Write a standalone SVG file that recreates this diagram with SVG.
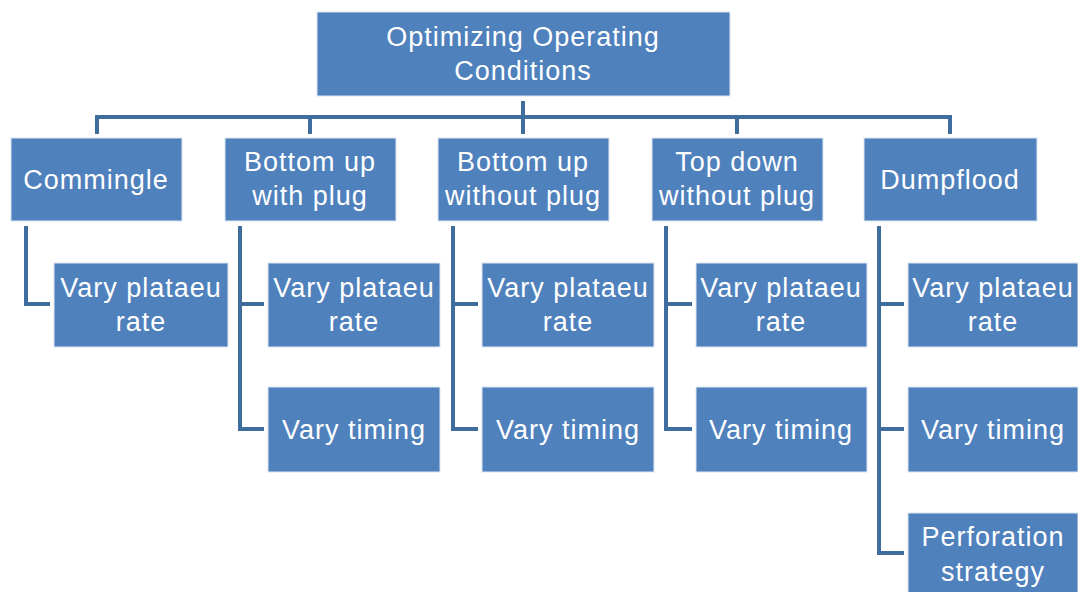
<svg xmlns="http://www.w3.org/2000/svg" width="1078" height="592" viewBox="0 0 1078 592">
  <style>
    .box { fill: #4F81BD; stroke: #DCE6F2; stroke-width: 1; }
    .lbl { font-family: "Liberation Sans", Arial, sans-serif; font-size: 27px; letter-spacing: 1px; fill: #FFFFFF; text-anchor: middle; }
    .conn { fill: none; stroke: #3F6D9E; stroke-width: 4; stroke-linejoin: miter; }
  </style>
  <rect x="0" y="0" width="1078" height="592" fill="#FFFFFF"/>

  <!-- connectors -->
  <g id="connectors">
    <path class="conn" d="M523,101 V117"/>
    <path class="conn" d="M97,134 V117 H950 V134"/>
    <path class="conn" d="M310,117 V134"/>
    <path class="conn" d="M523,117 V134"/>
    <path class="conn" d="M737,117 V134"/>
    <!-- Commingle -->
    <path class="conn" d="M26,226 V304 H50"/>
    <!-- Bottom up with plug -->
    <path class="conn" d="M240,226 V429 H264 M240,304 H264"/>
    <!-- Bottom up without plug -->
    <path class="conn" d="M453,226 V429 H478 M453,304 H478"/>
    <!-- Top down without plug -->
    <path class="conn" d="M666,226 V429 H692 M666,304 H692"/>
    <!-- Dumpflood -->
    <path class="conn" d="M879,226 V553 H904 M879,304 H904 M879,429 H904"/>
  </g>

  <!-- root -->
  <g id="root">
    <rect class="box" x="317" y="12" width="413" height="84"/>
    <text class="lbl" x="523" y="46">Optimizing Operating</text>
    <text class="lbl" x="523" y="80">Conditions</text>
  </g>

  <!-- first level -->
  <g id="commingle">
    <rect class="box" x="11" y="138" width="171" height="83"/>
    <text class="lbl" x="96" y="189">Commingle</text>
  </g>
  <g id="bottom-up-with-plug">
    <rect class="box" x="225" y="138" width="171" height="83"/>
    <text class="lbl" x="310" y="171">Bottom up</text>
    <text class="lbl" x="310" y="205">with plug</text>
  </g>
  <g id="bottom-up-without-plug">
    <rect class="box" x="438" y="138" width="171" height="83"/>
    <text class="lbl" x="523" y="171">Bottom up</text>
    <text class="lbl" x="523" y="205">without plug</text>
  </g>
  <g id="top-down-without-plug">
    <rect class="box" x="652" y="138" width="171" height="83"/>
    <text class="lbl" x="737" y="171">Top down</text>
    <text class="lbl" x="737" y="205">without plug</text>
  </g>
  <g id="dumpflood">
    <rect class="box" x="864" y="138" width="173" height="83"/>
    <text class="lbl" x="950" y="189">Dumpflood</text>
  </g>

  <!-- second level -->
  <g id="commingle-plateau">
    <rect class="box" x="54" y="263" width="174" height="84"/>
    <text class="lbl" x="141" y="297">Vary plataeu</text>
    <text class="lbl" x="141" y="331">rate</text>
  </g>
  <g id="buwp-plateau">
    <rect class="box" x="268" y="263" width="172" height="84"/>
    <text class="lbl" x="354" y="297">Vary plataeu</text>
    <text class="lbl" x="354" y="331">rate</text>
  </g>
  <g id="buwp-timing">
    <rect class="box" x="268" y="387" width="172" height="85"/>
    <text class="lbl" x="354" y="439">Vary timing</text>
  </g>
  <g id="buwop-plateau">
    <rect class="box" x="482" y="263" width="172" height="84"/>
    <text class="lbl" x="568" y="297">Vary plataeu</text>
    <text class="lbl" x="568" y="331">rate</text>
  </g>
  <g id="buwop-timing">
    <rect class="box" x="482" y="387" width="172" height="85"/>
    <text class="lbl" x="568" y="439">Vary timing</text>
  </g>
  <g id="tdwop-plateau">
    <rect class="box" x="696" y="263" width="171" height="84"/>
    <text class="lbl" x="781" y="297">Vary plataeu</text>
    <text class="lbl" x="781" y="331">rate</text>
  </g>
  <g id="tdwop-timing">
    <rect class="box" x="696" y="387" width="171" height="85"/>
    <text class="lbl" x="781" y="439">Vary timing</text>
  </g>
  <g id="dumpflood-plateau">
    <rect class="box" x="908" y="263" width="170" height="84"/>
    <text class="lbl" x="993" y="297">Vary plataeu</text>
    <text class="lbl" x="993" y="331">rate</text>
  </g>
  <g id="dumpflood-timing">
    <rect class="box" x="908" y="387" width="170" height="85"/>
    <text class="lbl" x="993" y="439">Vary timing</text>
  </g>
  <g id="dumpflood-perforation">
    <rect class="box" x="908" y="513" width="170" height="84"/>
    <text class="lbl" x="993" y="546">Perforation</text>
    <text class="lbl" x="993" y="581">strategy</text>
  </g>
</svg>
